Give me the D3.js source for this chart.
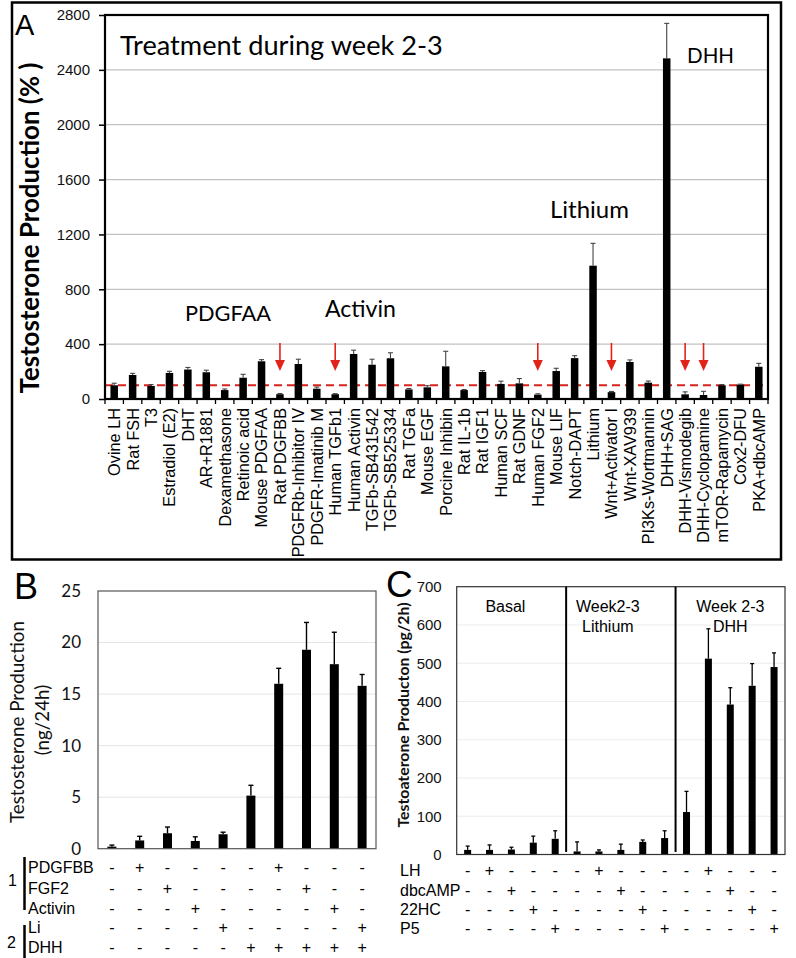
<!DOCTYPE html>
<html><head><meta charset="utf-8">
<script src="https://cdn.jsdelivr.net/npm/d3@7"></script>
<style>body{margin:0;background:#fff}</style>
</head><body>
<svg id="chart" width="796" height="958"></svg>
<script>
// ---------- DATA ----------
const aCategories = ["Ovine LH","Rat FSH","T3","Estradiol (E2)","DHT","AR+R1881","Dexamethasone","Retinoic acid","Mouse PDGFAA","Rat PDGFBB","PDGFRb-Inhibitor IV","PDGFR-Imatinib M","Human TGFb1","Human Activin","TGFb-SB431542","TGFb-SB525334","Rat TGFa","Mouse EGF","Porcine Inhibin","Rat IL-1b","Rat IGF1","Human SCF","Rat GDNF","Human FGF2","Mouse LIF","Notch-DAPT","Lithium","Wnt+Activator I","Wnt-XAV939","PI3Ks-Wortmannin","DHH+SAG","DHH-Vismodegib","DHH-Cyclopamine","mTOR-Rapamycin","Cox2-DFU","PKA+dbcAMP"];
const aValues = [100,175,95,190,215,195,65,155,275,35,255,75,35,328,250,297,70,85,238,65,197,110,114,32,204,298,972,50,270,119,2484,34,29,100,105,235];
const aErrors = [15,12,10,12,15,15,8,25,12,5,35,12,4,28,40,40,6,12,110,4,10,20,35,6,20,18,163,5,15,12,255,18,27,5,3,25];
const aArrowCats = ["Rat PDGFBB","Human TGFb1","Human FGF2","Wnt+Activator I","DHH-Vismodegib","DHH-Cyclopamine"];
const aTicks = [0,400,800,1200,1600,2000,2400,2800];
const aRefLine = 100;
const aTitle = "Treatment during week 2-3";
const aYTitle = "Testosterone Production (% )";

const bValues = [0.2,0.8,1.5,0.75,1.4,5.15,16,19.3,17.9,15.8];
const bErrors = [0.15,0.4,0.6,0.4,0.2,1.0,1.5,2.65,3.1,1.1];
const bTicks = [0,5,10,15,20,25];
const bRowLabels = ["PDGFBB","FGF2","Activin","Li","DHH"];
const bSigns = [
  ["-","+","-","-","-","-","+","-","-","-"],
  ["-","-","+","-","-","-","-","+","-","-"],
  ["-","-","-","+","-","-","-","-","+","-"],
  ["-","-","-","-","+","-","-","-","-","+"],
  ["-","-","-","-","-","+","+","+","+","+"]
];
const bYTitle = ["Testosterone Production","(ng/24h)"];

const cValues = [12,12,13,31,41,8,8,12,33,43,111,512,392,441,490];
const cErrors = [10,13,6,17,21,25,4,15,5,19,54,78,44,58,37];
const cTicks = [0,100,200,300,400,500,600,700];
const cGroups = [["Basal"],["Week2-3","Lithium"],["Week 2-3","DHH"]];
const cRowLabels = ["LH","dbcAMP","22HC","P5"];
const cSigns = [
  ["-","+","-","-","-","-","+","-","-","-","-","+","-","-","-"],
  ["-","-","+","-","-","-","-","+","-","-","-","-","+","-","-"],
  ["-","-","-","+","-","-","-","-","+","-","-","-","-","+","-"],
  ["-","-","-","-","+","-","-","-","-","+","-","-","-","-","+"]
];
const cYTitle = "Testoaterone Producton (pg/2h)";

// ---------- HELPERS ----------
const F_CAL = "Lato, 'Open Sans', sans-serif";
const F_AR = "'Liberation Sans', Arial, Helvetica, sans-serif";
const svg = d3.select("#chart");
function fit(sel, target){
  const w = sel.node().getComputedTextLength();
  const fs = parseFloat(sel.attr("font-size"));
  sel.attr("font-size", (fs*target/w).toFixed(2));
  return sel;
}
function txt(g, x, y, s, fam, size, opts={}){
  const t = g.append("text").attr("x",x).attr("y",y).text(s)
    .attr("font-family",fam).attr("font-size",size).attr("fill",opts.fill||"#000");
  if(opts.anchor) t.attr("text-anchor",opts.anchor);
  if(opts.weight) t.attr("font-weight",opts.weight);
  if(opts.fit) fit(t, opts.fit);
  return t;
}

// ---------- PANEL A ----------
const gA = svg.append("g");
gA.append("rect").attr("x",12).attr("y",2.5).attr("width",769).attr("height",557)
  .attr("fill","none").attr("stroke","#000").attr("stroke-width",2.5);
const A = {l:105, r:768, t:15, b:399};
const xA = d3.scaleBand().domain(aCategories).range([A.l, A.r]);
const yA = d3.scaleLinear().domain([0,2800]).range([A.b, A.t]);
const aData = aCategories.map((c,i)=>({c, v:aValues[i], e:aErrors[i]}));

gA.append("g").selectAll("line").data(aTicks.slice(1,-1)).join("line")
  .attr("x1",A.l).attr("x2",A.r).attr("y1",d=>yA(d)).attr("y2",d=>yA(d))
  .attr("stroke","#c2c2c2").attr("stroke-width",1.2);
gA.append("line").attr("x1",A.l).attr("x2",A.r).attr("y1",yA(aRefLine)).attr("y2",yA(aRefLine))
  .attr("stroke","#d8231c").attr("stroke-width",2).attr("stroke-dasharray","8,5");
const bwA = 7.5;
gA.append("g").selectAll("rect").data(aData).join("rect")
  .attr("x",d=>xA(d.c)+xA.bandwidth()/2-bwA/2).attr("width",bwA)
  .attr("y",d=>yA(d.v)).attr("height",d=>yA(0)-yA(d.v)).attr("fill","#000");
const eA = gA.append("g").attr("stroke","#444").attr("stroke-width",1.1);
aData.forEach(d=>{
  const cx = xA(d.c)+xA.bandwidth()/2;
  eA.append("line").attr("x1",cx).attr("x2",cx).attr("y1",yA(d.v)).attr("y2",yA(d.v+d.e));
  eA.append("line").attr("x1",cx-2.5).attr("x2",cx+2.5).attr("y1",yA(d.v+d.e)).attr("y2",yA(d.v+d.e));
});
// arrows
aArrowCats.forEach(c=>{
  const cx = xA(c)+xA.bandwidth()/2;
  gA.append("line").attr("x1",cx).attr("x2",cx).attr("y1",343).attr("y2",361)
    .attr("stroke","#e2231a").attr("stroke-width",1.6);
  gA.append("path").attr("d",`M${cx-5},360 L${cx+5},360 L${cx},371 Z`).attr("fill","#e2231a");
});
// frame
gA.append("rect").attr("x",A.l).attr("y",A.t).attr("width",A.r-A.l).attr("height",A.b-A.t)
  .attr("fill","none").attr("stroke","#000").attr("stroke-width",2.2);
// y axis
gA.append("g").attr("transform",`translate(${A.l},0)`)
  .call(d3.axisLeft(yA).tickValues(aTicks).tickFormat(d=>String(d)).tickSize(6).tickPadding(9))
  .call(g=>{g.select(".domain").remove();
    g.selectAll("text").attr("font-family",F_AR).attr("font-size",15).attr("fill","#111");
    g.selectAll("line").attr("stroke","#000").attr("stroke-width",1.5);});
// x axis ticks + labels
const xTicksA = aCategories.map(c=>xA(c)).concat([A.r]);
gA.append("g").selectAll("line").data(xTicksA).join("line")
  .attr("x1",d=>d).attr("x2",d=>d).attr("y1",A.b).attr("y2",A.b+5)
  .attr("stroke","#000").attr("stroke-width",1.3);
gA.append("g").selectAll("text").data(aCategories).join("text")
  .attr("transform",d=>`translate(${xA(d)+xA.bandwidth()/2},408) rotate(-90)`)
  .attr("dy","0.36em").attr("text-anchor","end")
  .attr("font-family",F_AR).attr("font-size",16.3).attr("fill","#000").text(d=>d);
// texts
txt(gA,15,35,"A",F_AR,29);
txt(gA,120,55,aTitle,F_CAL,24,{fit:323});
txt(gA,687,63,"DHH",F_CAL,22,{fit:47});
txt(gA,550,218,"Lithium",F_CAL,22,{fit:79});
txt(gA,185,321,"PDGFAA",F_CAL,22,{fit:86});
txt(gA,325,317,"Activin",F_CAL,22,{fit:71});
const ayt = gA.append("text").attr("transform","translate(30,228) rotate(-90)")
  .attr("text-anchor","middle").attr("dy","0.35em").attr("font-family",F_CAL)
  .attr("font-weight","bold").attr("font-size",18).text(aYTitle);
fit(ayt,331);

// ---------- PANEL B ----------
const gB = svg.append("g");
const B = {l:98, r:376, t:591, b:848.7};
const xB = d3.scaleBand().domain(d3.range(bValues.length)).range([B.l,B.r]);
const yB = d3.scaleLinear().domain([0,25]).range([B.b,B.t]);
gB.append("g").selectAll("line").data(bTicks.slice(1,-1)).join("line")
  .attr("x1",B.l).attr("x2",B.r).attr("y1",d=>yB(d)).attr("y2",d=>yB(d))
  .attr("stroke","#e4e4e4").attr("stroke-width",1);
const bwB = 9;
gB.append("g").selectAll("rect").data(bValues).join("rect")
  .attr("x",(d,i)=>xB(i)+xB.bandwidth()/2-bwB/2).attr("width",bwB)
  .attr("y",d=>yB(d)).attr("height",d=>yB(0)-yB(d)).attr("fill","#000");
const eB = gB.append("g").attr("stroke","#000").attr("stroke-width",1.4);
bValues.forEach((v,i)=>{
  const cx = xB(i)+xB.bandwidth()/2, e = bErrors[i];
  eB.append("line").attr("x1",cx).attr("x2",cx).attr("y1",yB(v)).attr("y2",yB(v+e));
  eB.append("line").attr("x1",cx-2.5).attr("x2",cx+2.5).attr("y1",yB(v+e)).attr("y2",yB(v+e));
});
gB.append("rect").attr("x",B.l).attr("y",B.t).attr("width",B.r-B.l).attr("height",B.b-B.t)
  .attr("fill","none").attr("stroke","#555").attr("stroke-width",1.2);
gB.append("g").attr("transform",`translate(${B.l},0)`)
  .call(d3.axisLeft(yB).tickValues(bTicks).tickSize(0).tickPadding(17))
  .call(g=>{g.select(".domain").remove();
    g.selectAll("text").attr("font-family",F_CAL).attr("font-size",17).attr("fill","#111");});
txt(gB,14,599,"B",F_AR,36);
const byt1 = gB.append("text").attr("transform","translate(17,722) rotate(-90)")
  .attr("text-anchor","middle").attr("dy","0.35em").attr("font-family",F_CAL)
  .attr("font-size",20).attr("fill","#111").text(bYTitle[0]);
fit(byt1,202);
gB.append("text").attr("transform","translate(42,720) rotate(-90)")
  .attr("text-anchor","middle").attr("dy","0.35em").attr("font-family",F_CAL)
  .attr("font-size",byt1.attr("font-size")).attr("fill","#111").text(bYTitle[1]);
const bRowY = [872.5,893.5,913.5,932.5,952.5];
bRowLabels.forEach((lab,r)=>{
  txt(gB,28,bRowY[r],lab,F_AR,16);
  bSigns[r].forEach((s,i)=>{
    txt(gB,xB(i)+xB.bandwidth()/2,bRowY[r],s,F_AR,16,{anchor:"middle"});
  });
});
gB.append("line").attr("x1",24.5).attr("x2",24.5).attr("y1",857).attr("y2",910).attr("stroke","#000").attr("stroke-width",2.5);
gB.append("line").attr("x1",24.5).attr("x2",24.5).attr("y1",925).attr("y2",958).attr("stroke","#000").attr("stroke-width",2.5);
txt(gB,8,885.5,"1",F_AR,16);
txt(gB,7,947.5,"2",F_AR,16);

// ---------- PANEL C ----------
const gC = svg.append("g");
const C = {l:456.7, r:785, t:586.7, b:854.5};
const xC = d3.scaleBand().domain(d3.range(cValues.length)).range([C.l,C.r]);
const yC = d3.scaleLinear().domain([0,700]).range([C.b,C.t]);
gC.append("g").selectAll("line").data(cTicks.slice(1,-1)).join("line")
  .attr("x1",C.l).attr("x2",C.r).attr("y1",d=>yC(d)).attr("y2",d=>yC(d))
  .attr("stroke","#ececec").attr("stroke-width",1);
const bwC = 7;
gC.append("g").selectAll("rect").data(cValues).join("rect")
  .attr("x",(d,i)=>xC(i)+xC.bandwidth()/2-bwC/2).attr("width",bwC)
  .attr("y",d=>yC(d)).attr("height",d=>yC(0)-yC(d)).attr("fill","#000");
const eC = gC.append("g").attr("stroke","#000").attr("stroke-width",1.3);
cValues.forEach((v,i)=>{
  const cx = xC(i)+xC.bandwidth()/2, e = cErrors[i];
  eC.append("line").attr("x1",cx).attr("x2",cx).attr("y1",yC(v)).attr("y2",yC(v+e));
  eC.append("line").attr("x1",cx-2).attr("x2",cx+2).attr("y1",yC(v+e)).attr("y2",yC(v+e));
});
gC.append("rect").attr("x",C.l).attr("y",C.t).attr("width",C.r-C.l).attr("height",C.b-C.t)
  .attr("fill","none").attr("stroke","#333").attr("stroke-width",1.2);
const groupSize = cValues.length / cGroups.length;
[1,2].forEach(k=>{
  const x = xC(k*groupSize);
  gC.append("line").attr("x1",x).attr("x2",x).attr("y1",C.t).attr("y2",852)
    .attr("stroke","#000").attr("stroke-width",2);
});
const cGroupDX = [-6,-13,0];
cGroups.forEach((lines,k)=>{
  const cx = xC(k*groupSize)+groupSize*xC.bandwidth()/2 + cGroupDX[k];
  lines.forEach((s,j)=>txt(gC,cx,612+j*20,s,F_AR,16,{anchor:"middle"}));
});
gC.append("g").attr("transform",`translate(${C.l},0)`)
  .call(d3.axisLeft(yC).tickValues(cTicks).tickSize(0).tickPadding(15))
  .call(g=>{g.select(".domain").remove();
    g.selectAll("text").attr("font-family",F_AR).attr("font-size",15).attr("fill","#111");});
txt(gC,386,597,"C",F_AR,37);
const cyt = gC.append("text").attr("transform","translate(403,715) rotate(-90)")
  .attr("text-anchor","middle").attr("dy","0.35em").attr("font-family",F_CAL)
  .attr("font-weight","bold").attr("font-size",14).attr("fill","#111").text(cYTitle);
fit(cyt,225);
const cRowY = [876,895.5,914.5,933.5];
cRowLabels.forEach((lab,r)=>{
  txt(gC,400,cRowY[r],lab,F_AR,16);
  cSigns[r].forEach((s,i)=>{
    txt(gC,xC(i)+xC.bandwidth()/2,cRowY[r],s,F_AR,16,{anchor:"middle"});
  });
});
</script>
</body></html>
